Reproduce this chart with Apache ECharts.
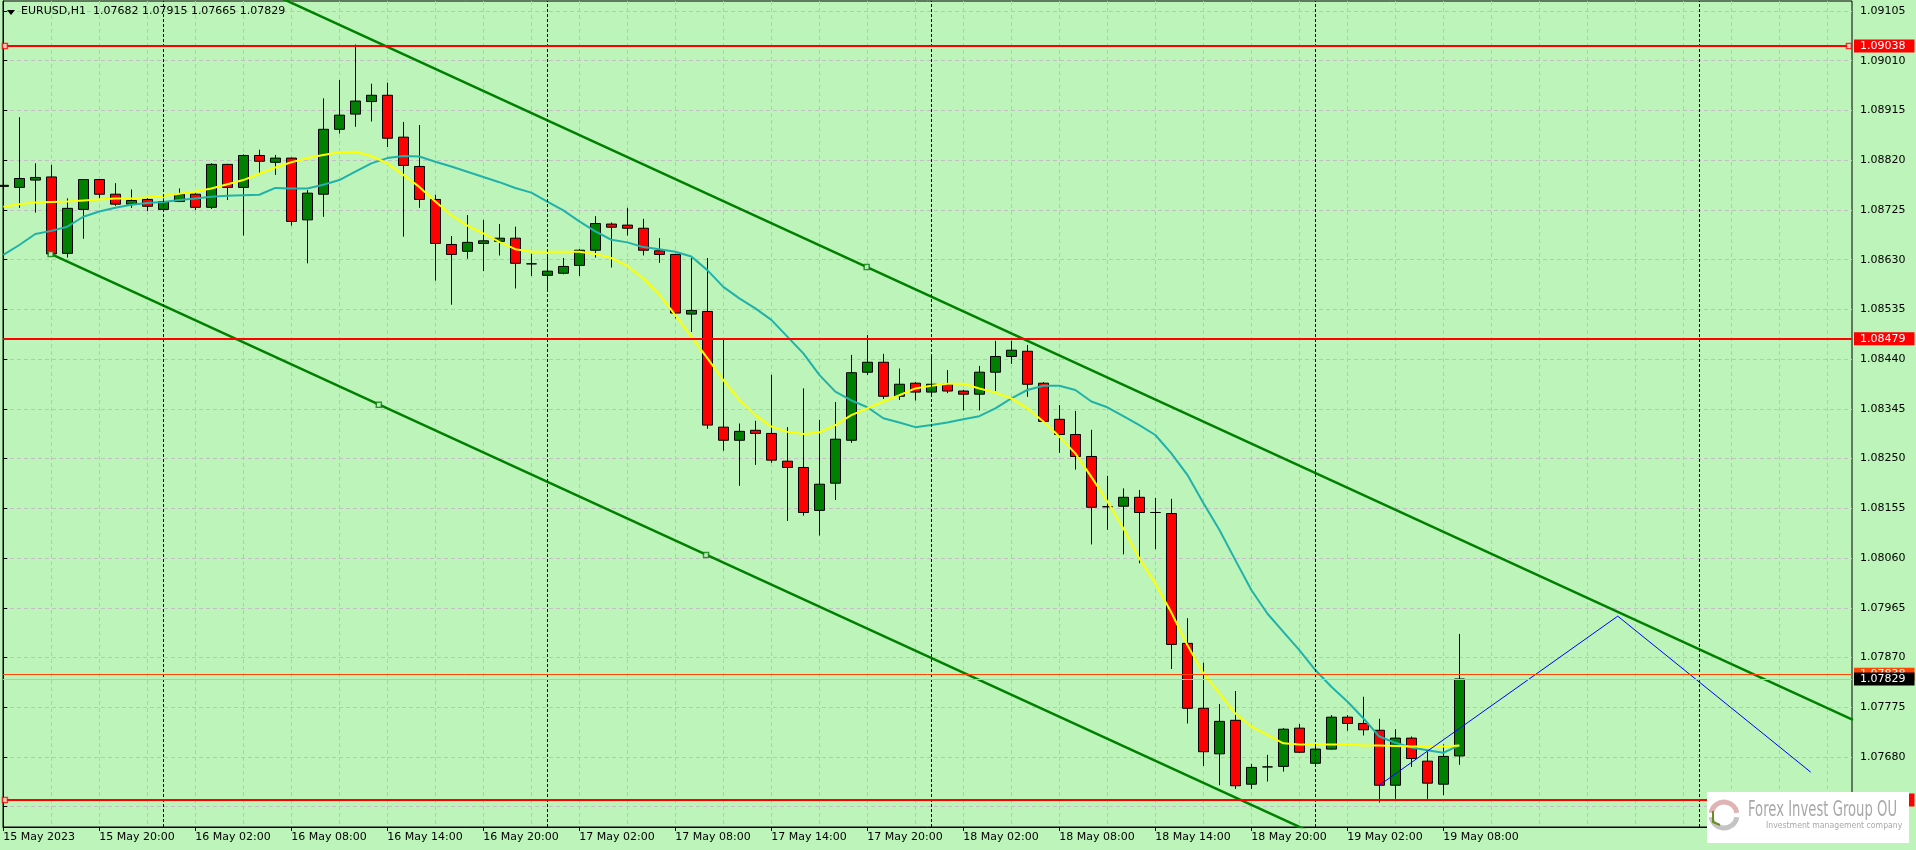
<!DOCTYPE html>
<html><head><meta charset="utf-8">
<script src="https://cdn.jsdelivr.net/npm/echarts@6/dist/echarts.min.js"></script>
<style>html,body{margin:0;padding:0;background:#bdf4b9;overflow:hidden;} #c{width:1916px;height:850px;}</style>
</head><body><div id="c"></div>
<script>
// ---- data (EURUSD H1, bar 0 = 15 May 2023 14:00) ----
const symbolName = 'EURUSD,H1';
const opens = [1.08770,1.08768,1.08782,1.08788,1.08642,1.08726,1.08783,1.08755,1.08736,1.08745,
1.08726,1.08741,1.08755,1.08730,1.08812,1.08768,1.08829,1.08816,1.08824,1.08706,
1.08755,1.08879,1.08908,1.08932,1.08944,1.08864,1.08808,1.08745,1.08659,1.08646,
1.08661,1.08665,1.08671,1.08622,1.08600,1.08604,1.08619,1.08648,1.08698,1.08696,
1.08690,1.08647,1.08640,1.08526,1.08531,1.08310,1.08285,1.08304,1.08298,1.08245,
1.08233,1.08151,1.08203,1.08285,1.08415,1.08434,1.08369,1.08394,1.08377,1.08392,
1.08379,1.08373,1.08415,1.08445,1.08455,1.08394,1.08325,1.08296,1.08254,1.08158,
1.08159,1.08176,1.08147,1.08145,1.07897,1.07773,1.07686,1.07750,1.07628,1.07661,
1.07662,1.07735,1.07668,1.07695,1.07756,1.07744,1.07731,1.07626,1.07716,1.07672,
1.07628,1.07682];
const closes = [1.08772,1.08785,1.08787,1.08641,1.08728,1.08783,1.08755,1.08736,1.08743,1.08732,
1.08741,1.08755,1.08730,1.08812,1.08768,1.08829,1.08818,1.08824,1.08703,1.08757,
1.08879,1.08906,1.08933,1.08944,1.08862,1.08810,1.08745,1.08661,1.08640,1.08663,
1.08666,1.08671,1.08623,1.08622,1.08608,1.08617,1.08648,1.08699,1.08692,1.08690,
1.08648,1.08640,1.08528,1.08533,1.08314,1.08285,1.08302,1.08298,1.08247,1.08233,
1.08147,1.08201,1.08287,1.08414,1.08434,1.08369,1.08392,1.08377,1.08392,1.08379,
1.08373,1.08415,1.08445,1.08457,1.08392,1.08321,1.08296,1.08254,1.08157,1.08158,
1.08176,1.08147,1.08147,1.07895,1.07773,1.07690,1.07748,1.07625,1.07660,1.07661,
1.07733,1.07689,1.07695,1.07756,1.07744,1.07732,1.07626,1.07716,1.07677,1.07630,
1.07681,1.07829];
const lows = [1.08731,1.08729,1.08720,1.08641,1.08634,1.08670,1.08747,1.08733,1.08729,1.08723,
1.08722,1.08740,1.08725,1.08727,1.08744,1.08676,1.08795,1.08792,1.08695,1.08623,
1.08712,1.08871,1.08884,1.08894,1.08845,1.08674,1.08729,1.08590,1.08544,1.08632,
1.08608,1.08638,1.08575,1.08599,1.08574,1.08602,1.08599,1.08634,1.08615,1.08676,
1.08638,1.08624,1.08518,1.08492,1.08307,1.08265,1.08198,1.08238,1.08242,1.08131,
1.08141,1.08103,1.08171,1.08280,1.08410,1.08364,1.08362,1.08361,1.08372,1.08375,
1.08342,1.08342,1.08379,1.08431,1.08368,1.08320,1.08261,1.08229,1.08086,1.08114,
1.08067,1.08050,1.08077,1.07848,1.07744,1.07663,1.07626,1.07619,1.07619,1.07633,
1.07652,1.07688,1.07661,1.07694,1.07730,1.07721,1.07593,1.07600,1.07661,1.07600,
1.07607,1.07665];
const highs = [1.08798,1.08902,1.08814,1.08811,1.08747,1.08784,1.08784,1.08776,1.08764,1.08750,
1.08747,1.08766,1.08757,1.08814,1.08813,1.08831,1.08840,1.08830,1.08825,1.08763,
1.08938,1.08973,1.09041,1.08966,1.08968,1.08893,1.08887,1.08754,1.08675,1.08715,
1.08706,1.08698,1.08693,1.08641,1.08639,1.08633,1.08650,1.08713,1.08701,1.08729,
1.08708,1.08671,1.08641,1.08633,1.08633,1.08477,1.08317,1.08322,1.08410,1.08310,
1.08384,1.08324,1.08358,1.08448,1.08486,1.08450,1.08422,1.08396,1.08445,1.08419,
1.08381,1.08427,1.08475,1.08475,1.08467,1.08396,1.08352,1.08341,1.08305,1.08217,
1.08193,1.08190,1.08175,1.08173,1.07945,1.07860,1.07781,1.07806,1.07667,1.07684,
1.07735,1.07743,1.07700,1.07760,1.07760,1.07795,1.07753,1.07733,1.07719,1.07690,
1.07704,1.07915];
const fastMA = [1.08731,1.08736,1.08739,1.08740,1.08741,1.08743,1.08745,1.08747,1.08747,1.08749,
1.08752,1.08756,1.08760,1.08766,1.08774,1.08782,1.08794,1.08806,1.08816,1.08824,
1.08830,1.08835,1.08836,1.08828,1.08814,1.08792,1.08769,1.08741,1.08715,1.08695,
1.08680,1.08664,1.08650,1.08645,1.08645,1.08645,1.08645,1.08641,1.08633,1.08618,
1.08594,1.08563,1.08524,1.08483,1.08442,1.08400,1.08362,1.08333,1.08311,1.08301,
1.08297,1.08300,1.08314,1.08333,1.08346,1.08359,1.08371,1.08384,1.08389,1.08393,
1.08393,1.08384,1.08376,1.08365,1.08346,1.08321,1.08292,1.08260,1.08215,1.08168,
1.08117,1.08059,1.08012,1.07956,1.07894,1.07840,1.07802,1.07763,1.07738,1.07722,
1.07706,1.07704,1.07704,1.07704,1.07704,1.07702,1.07702,1.07701,1.07700,1.07700,
1.07700,1.07702];
const slowMA = [1.08639,1.08658,1.08679,1.08685,1.08693,1.08712,1.08722,1.08729,1.08735,1.08738,
1.08740,1.08744,1.08747,1.08750,1.08752,1.08753,1.08754,1.08767,1.08766,1.08766,
1.08773,1.08782,1.08798,1.08814,1.08824,1.08828,1.08827,1.08817,1.08808,1.08798,
1.08788,1.08778,1.08767,1.08758,1.08741,1.08724,1.08703,1.08684,1.08668,1.08663,
1.08654,1.08650,1.08645,1.08636,1.08610,1.08578,1.08556,1.08537,1.08515,1.08483,
1.08451,1.08410,1.08378,1.08361,1.08348,1.08327,1.08319,1.08310,1.08314,1.08319,
1.08325,1.08331,1.08346,1.08365,1.08381,1.08389,1.08389,1.08381,1.08359,1.08348,
1.08331,1.08314,1.08295,1.08260,1.08219,1.08165,1.08114,1.08056,1.07999,1.07954,
1.07919,1.07884,1.07846,1.07814,1.07786,1.07754,1.07719,1.07707,1.07698,1.07693,
1.07688,1.07702];
// x tick labels (every 6 bars starting at bar 0)
const xLabels = ['15 May 2023','15 May 20:00','16 May 02:00','16 May 08:00','16 May 14:00','16 May 20:00',
'17 May 02:00','17 May 08:00','17 May 14:00','17 May 20:00','18 May 02:00','18 May 08:00',
'18 May 14:00','18 May 20:00','19 May 02:00','19 May 08:00'];
const daySeparators = [10, 34, 58, 82, 106];
// y tick labels
const yTicks = [1.07585,1.07680,1.07775,1.07870,1.07965,1.08060,1.08155,1.08250,1.08345,1.08440,
1.08535,1.08630,1.08725,1.08820,1.08915,1.09010,1.09105];
// horizontal levels
const redLevels = [1.09038, 1.08479, 1.07598];
const bidPrice = 1.07829;
const askPrice = 1.07838;
// channel & drawn lines [barIndex, price]
const channelUpper = [[10, 1.09233], [115.6, 1.07751]];
const channelLower = [[2.96, 1.08641], [100, 1.07280]];
const blueLine = [[86.0, 1.07626], [100.9, 1.07949], [112.96, 1.07651]];
const redAnchors = [[0.1, 1.09038], [115.35, 1.09038], [0.1, 1.07598]];
const greenAnchors = [[2.96, 1.08641], [23.47, 1.08353], [43.92, 1.08066], [53.96, 1.08616]];

// ---- chart ----
const FONT = 'DejaVu Sans';
const X_MIN = -0.019, X_MAX = 115.54;
const Y_MIN = 1.075462, Y_MAX = 1.091241;
const candleData = opens.map((o, i) => [i, o, closes[i], lows[i], highs[i]]);
const xLabelIdx = xLabels.map((_, k) => k * 6);
const xGridIdx = [];
for (let v = 0; v <= 114; v += 3) xGridIdx.push(v);

const chart = echarts.init(document.getElementById('c'), null, {renderer: 'canvas'});
const last = opens.length - 1;
const headerText = symbolName + '  ' + opens[last].toFixed(5) + ' ' + highs[last].toFixed(5) + ' ' + lows[last].toFixed(5) + ' ' + closes[last].toFixed(5);

function levelLabel(bg, fg) {
  return {show: true, position: 'end', distance: 2, color: fg, backgroundColor: bg,
    padding: [1, 9, 0, 6], fontSize: 11, lineHeight: 12, fontFamily: FONT,
    formatter: p => Number(p.value).toFixed(5)};
}
function levelSeries(items, z) {
  return {type: 'line', data: [], z: z, silent: true,
    markLine: {silent: true, symbol: ['none', 'none'], animation: false, precision: 5, data: items}};
}

chart.setOption({
  animation: false,
  backgroundColor: '#bdf4b9',
  grid: {left: 3, right: 64, top: 1, bottom: 23, show: true, borderColor: '#000', borderWidth: 1, backgroundColor: 'transparent'},
  xAxis: [{
    type: 'value', min: X_MIN, max: X_MAX,
    axisLine: {show: true, lineStyle: {color: '#000', width: 1}},
    axisTick: {show: false, customValues: xGridIdx},
    axisLabel: {show: true, customValues: xLabelIdx, align: 'left', margin: 5, color: '#000', fontSize: 11, fontFamily: FONT,
      formatter: v => xLabels[Math.round(v / 6)] || ''},
    splitLine: {show: true, lineStyle: {color: '#c6bec6', width: 1, type: [4, 3]}}
  }, {
    type: 'value', min: X_MIN, max: X_MAX, position: 'bottom',
    axisLine: {show: false},
    axisTick: {show: true, customValues: xLabelIdx, length: 4, lineStyle: {color: '#000'}},
    axisLabel: {show: false},
    splitLine: {show: false}
  }],
  yAxis: {
    type: 'value', position: 'right', min: Y_MIN, max: Y_MAX, scale: true,
    axisLine: {show: true, lineStyle: {color: '#000'}},
    axisTick: {show: true, customValues: yTicks, length: 4, inside: false, lineStyle: {color: '#000'}},
    axisLabel: {show: true, customValues: yTicks, margin: 8, color: '#000', fontSize: 11, fontFamily: FONT,
      formatter: v => Number(v).toFixed(5)},
    splitLine: {show: true, lineStyle: {color: '#c6bec6', width: 1, type: [4, 3]}}
  },
  series: [
    {
      type: 'line', data: [], z: 1, silent: true,
      markLine: {silent: true, symbol: ['none', 'none'], animation: false, precision: 5, label: {show: false},
        lineStyle: {color: '#000', width: 1, type: [3, 2]},
        data: daySeparators.map(v => ({xAxis: v}))}
    },
    {
      type: 'candlestick', data: candleData, encode: {x: 0, y: [1, 2, 3, 4]}, barWidth: 10, z: 2,
      itemStyle: {color: '#008000', color0: '#ff0000', borderColor: '#000', borderColor0: '#000', borderWidth: 1, borderColorDoji: '#000'}
    },
    {type: 'line', data: slowMA.map((v, i) => [i, v]), symbol: 'none', z: 3, lineStyle: {color: '#20b2aa', width: 2}},
    {type: 'line', data: fastMA.map((v, i) => [i, v]), symbol: 'none', z: 3, lineStyle: {color: '#ffff00', width: 2}},
    {type: 'line', data: channelUpper, symbol: 'none', z: 3, lineStyle: {color: '#008000', width: 2.5}},
    {type: 'line', data: channelLower, symbol: 'none', z: 3, lineStyle: {color: '#008000', width: 2.5}},
    {type: 'line', data: blueLine, symbol: 'none', z: 3, lineStyle: {color: '#0000ff', width: 1}},
    levelSeries(redLevels.map(v => ({yAxis: v, lineStyle: {color: '#ff0000', width: 2, type: 'solid'}, label: levelLabel('#ff0000', '#ffffff')})), 4),
    levelSeries([{yAxis: askPrice, lineStyle: {color: '#ff4500', width: 1, type: 'solid'}, label: levelLabel('#ff4500', '#ffffff')}], 4),
    levelSeries([{yAxis: bidPrice, lineStyle: {color: '#c0c0c0', width: 1, type: 'solid'}, label: levelLabel('#000000', '#ffffff')}], 5),
    {type: 'scatter', data: redAnchors, symbol: 'rect', symbolSize: 5, z: 6,
      itemStyle: {color: '#f4fff4', borderColor: '#ff0000', borderWidth: 1.5}},
    {type: 'scatter', data: greenAnchors, symbol: 'rect', symbolSize: 5, z: 6,
      itemStyle: {color: '#f4fff4', borderColor: '#008000', borderWidth: 1.5}}
  ],
  graphic: [
    {type: 'polygon', shape: {points: [[7, 10], [15, 10], [11, 15]]}, style: {fill: '#000'}, z: 100},
    {type: 'text', x: 21, y: 6, z: 100, style: {text: headerText, fill: '#000', font: '11px "DejaVu Sans"'}},
    {type: 'group', z: 100, children: [
      {type: 'rect', shape: {x: 1707, y: 792, width: 202, height: 51}, style: {fill: '#ffffff'}, z: 100},
      {type: 'arc', shape: {cx: 1724, cy: 815, r: 13, startAngle: Math.PI * 1.05, endAngle: Math.PI * 1.95}, style: {stroke: '#e0b4b4', lineWidth: 5, fill: null}, z: 101},
      {type: 'arc', shape: {cx: 1724, cy: 815, r: 13, startAngle: Math.PI * 0.05, endAngle: Math.PI * 0.95}, style: {stroke: '#c4c4c4', lineWidth: 5, fill: null}, z: 101},
      {type: 'polyline', shape: {points: [[1713, 811], [1713, 822], [1720, 825]]}, style: {stroke: '#6b8e23', lineWidth: 2}, z: 102},
      {type: 'text', x: 1748, y: 799, scaleX: 0.6, z: 102, style: {text: 'Forex Invest Group OU', fill: '#a8a8a8', font: '22px "DejaVu Sans"'}},
      {type: 'text', x: 1766, y: 821, scaleX: 0.86, z: 102, style: {text: 'Investment management company', fill: '#a8a8a8', font: '9px "DejaVu Sans"'}}
    ]}
  ]
});
</script>
</body></html>
